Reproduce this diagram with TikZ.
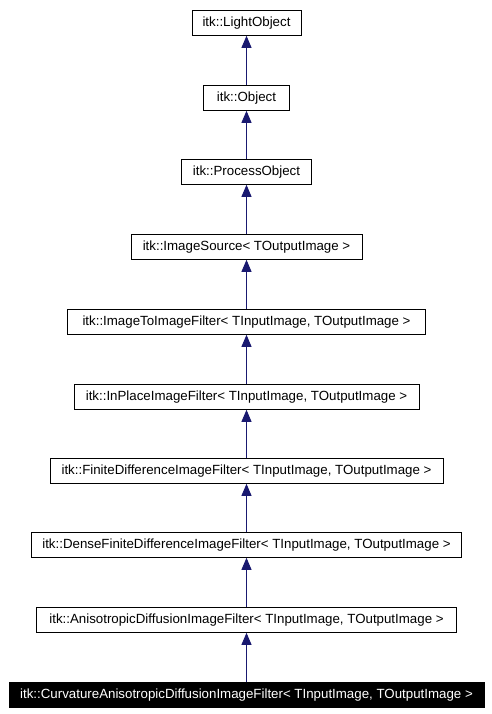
\documentclass[tikz,border=0pt]{standalone}
\usepackage{fontspec}
\setmainfont{Liberation Sans}
\usetikzlibrary{arrows.meta}
\definecolor{edgeblue}{RGB}{25,25,112}
\tikzset{
  cls/.style={draw=black, line width=0.8bp, fill=white, minimum height=25bp, inner sep=0pt, anchor=north, font=\fontsize{13.3bp}{15bp}\selectfont},
  cur/.style={cls, fill=black, text=white},
  inh/.style={draw=edgeblue, line width=0.9bp, -{Triangle[length=12bp,width=10bp]}}
}
\begin{document}
\begin{tikzpicture}[x=1bp,y=-1bp]
\useasboundingbox (0,0) rectangle (492,714);
\node[cls, minimum width=109bp] (lo) at (246.5,10) {itk::LightObject};
\node[cls, minimum width=86bp] (ob) at (246.5,85) {itk::Object};
\node[cls, minimum width=130bp] (po) at (246.5,159) {itk::ProcessObject};
\node[cls, minimum width=231bp] (is) at (246.5,234) {itk::ImageSource< TOutputImage >};
\node[cls, minimum width=358bp] (iti) at (246.5,309) {itk::ImageToImageFilter< TInputImage, TOutputImage >};
\node[cls, minimum width=345bp] (ip) at (246.5,384) {itk::InPlaceImageFilter< TInputImage, TOutputImage >};
\node[cls, minimum width=393bp] (fd) at (246.5,458) {itk::FiniteDifferenceImageFilter< TInputImage, TOutputImage >};
\node[cls, minimum width=430bp] (dfd) at (246.5,532) {itk::DenseFiniteDifferenceImageFilter< TInputImage, TOutputImage >};
\node[cls, minimum width=420bp] (ad) at (246.5,607) {itk::AnisotropicDiffusionImageFilter< TInputImage, TOutputImage >};
\node[cur, minimum width=475bp] (cad) at (246.5,682) {itk::CurvatureAnisotropicDiffusionImageFilter< TInputImage, TOutputImage >};
\draw[inh] (ob) -- (lo);
\draw[inh] (po) -- (ob);
\draw[inh] (is) -- (po);
\draw[inh] (iti) -- (is);
\draw[inh] (ip) -- (iti);
\draw[inh] (fd) -- (ip);
\draw[inh] (dfd) -- (fd);
\draw[inh] (ad) -- (dfd);
\draw[inh] (cad) -- (ad);
\end{tikzpicture}
\end{document}
